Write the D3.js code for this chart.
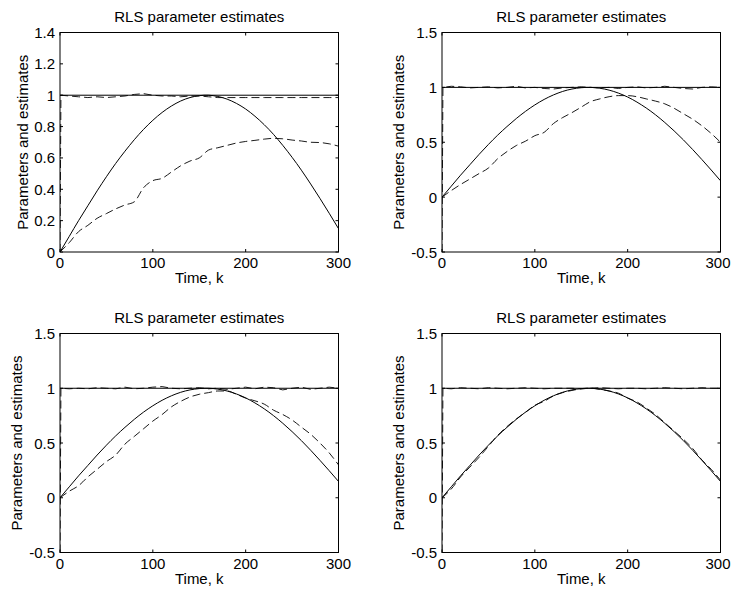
<!DOCTYPE html>
<html><head><meta charset="utf-8">
<script src="https://cdn.jsdelivr.net/npm/d3@7/dist/d3.min.js"></script>
<style>
html,body{margin:0;padding:0;background:#fff;}
text{font-family:"Liberation Sans",Arial,Helvetica,sans-serif;fill:#000;}
</style></head>
<body>
<svg id="chart" width="731" height="596"></svg>
<script>
// ---------- DATA ----------
const kVals = [0,10,20,30,40,50,60,70,80,90,100,110,120,130,140,150,160,170,180,190,200,210,220,230,240,250,260,270,280,290,300];
const kConst = [0,1,10,20,30,40,50,60,70,80,90,100,110,120,130,140,150,160,170,180,190,200,210,220,230,240,250,260,270,280,290,300];
const kTrueConst = [0,300];
const trueConst = [1,1];

// true time-varying parameter (solid curve), same in all panels
const trueVarying = [0,0.10,0.20,0.295,0.39,0.48,0.565,0.643,0.716,0.782,0.84,0.89,0.931,0.963,0.985,0.997,1.0,0.992,0.975,0.948,0.912,0.866,0.812,0.75,0.68,0.604,0.522,0.434,0.342,0.247,0.149];

// estimates of the time-varying parameter (dashed)
const trackA = [0,0.06,0.13,0.17,0.215,0.245,0.275,0.30,0.32,0.41,0.455,0.47,0.51,0.55,0.58,0.60,0.65,0.665,0.68,0.695,0.705,0.712,0.72,0.725,0.722,0.714,0.708,0.70,0.698,0.69,0.675];
const trackB = [0,0.06,0.115,0.165,0.215,0.265,0.35,0.415,0.47,0.51,0.56,0.59,0.67,0.725,0.77,0.82,0.87,0.895,0.915,0.925,0.925,0.915,0.895,0.875,0.85,0.81,0.76,0.71,0.65,0.58,0.50];
const trackC = [0,0.06,0.11,0.19,0.26,0.33,0.39,0.49,0.56,0.63,0.70,0.76,0.83,0.88,0.92,0.945,0.96,0.975,0.975,0.945,0.91,0.885,0.855,0.80,0.76,0.71,0.645,0.58,0.50,0.41,0.30];
const trackD = [0,0.08,0.19,0.28,0.37,0.47,0.57,0.65,0.72,0.78,0.845,0.88,0.93,0.96,0.98,0.995,1.0,0.99,0.975,0.955,0.91,0.875,0.82,0.76,0.685,0.61,0.535,0.45,0.345,0.26,0.16];

// estimates of the constant parameter (dashed)
const constA = [0,1.0,0.995,0.99,0.985,0.99,0.985,0.99,0.995,1.005,1.01,1.0,0.995,0.995,0.99,0.995,0.995,0.99,0.985,0.985,0.985,0.985,0.985,0.985,0.985,0.985,0.985,0.985,0.985,0.985,0.985,0.985];
const constB = [-0.5,1.0,1.01,1.005,0.995,1.0,1.005,0.995,1.0,1.01,0.995,1.0,0.99,0.985,0.995,1.0,1.005,1.0,0.995,1.0,0.99,1.0,1.005,0.995,1.0,1.01,1.0,0.99,0.985,1.0,1.005,1.0];
const constC = [-0.5,1.0,0.995,1.0,0.995,1.005,1.0,0.995,1.01,0.995,1.0,1.01,1.015,1.0,0.995,1.0,1.005,0.995,1.0,0.99,1.0,1.01,0.995,1.01,1.005,0.985,1.0,1.01,0.99,1.0,1.01,1.0];
const constD = [-0.5,1.0,0.995,1.005,1.0,0.995,1.005,1.0,0.995,1.0,1.005,1.0,0.995,1.0,1.0,1.0,0.995,1.0,1.005,1.0,0.995,1.0,1.0,0.995,1.0,1.005,1.0,0.995,1.0,1.005,1.0,1.0];

const xTicks = [0,100,200,300];
const xTickLabels = ["0","100","200","300"];
const yTicksA = [0,0.2,0.4,0.6,0.8,1.0,1.2,1.4];
const yTickLabelsA = ["0","0.2","0.4","0.6","0.8","1","1.2","1.4"];
const yTicksB = [-0.5,0,0.5,1.0,1.5];
const yTickLabelsB = ["-0.5","0","0.5","1","1.5"];

const titleText = "RLS parameter estimates";
const xLabelText = "Time, k";
const yLabelText = "Parameters and estimates";

// ---------- LAYOUT ----------
const W = 731;
const panels = [
  {x0:60,  y0:32.5,  w:278.5, h:219.5, yDom:[0,1.4],   yT:yTicksA, yL:yTickLabelsA, track:trackA, est:constA, ylx:22},
  {x0:442, y0:32.5,  w:278.5, h:219.5, yDom:[-0.5,1.5],yT:yTicksB, yL:yTickLabelsB, track:trackB, est:constB, ylx:398},
  {x0:60,  y0:333.5, w:278.5, h:219,   yDom:[-0.5,1.5],yT:yTicksB, yL:yTickLabelsB, track:trackC, est:constC, ylx:16},
  {x0:442, y0:333.5, w:278.5, h:219,   yDom:[-0.5,1.5],yT:yTicksB, yL:yTickLabelsB, track:trackD, est:constD, ylx:398}
];

const svg = d3.select("#chart");
const fs = 15;
const tickLen = 3;

panels.forEach((p,i)=>{
  const x = d3.scaleLinear().domain([0,300]).range([p.x0, p.x0+p.w]);
  const y = d3.scaleLinear().domain(p.yDom).range([p.y0+p.h, p.y0]);
  const g = svg.append("g");
  const clipId = "clip"+i;
  svg.append("clipPath").attr("id",clipId).append("rect")
     .attr("x",p.x0).attr("y",p.y0).attr("width",p.w).attr("height",p.h);

  const plot = g.append("g").attr("clip-path","url(#"+clipId+")");
  const line = (ks, vs, curve) => d3.line().x((d,j)=>x(ks[j])).y(d=>y(d)).curve(curve||d3.curveLinear)(vs);

  // true parameters (solid)
  plot.append("path").attr("d", line(kTrueConst, trueConst)).attr("fill","none").attr("stroke","#000").attr("stroke-width",1);
  plot.append("path").attr("d", line(kVals, trueVarying, d3.curveNatural)).attr("fill","none").attr("stroke","#000").attr("stroke-width",1);
  // estimates (dashed)
  plot.append("path").attr("d", line(kConst, p.est)).attr("fill","none").attr("stroke","#000").attr("stroke-width",0.9).attr("stroke-dasharray","8,4");
  plot.append("path").attr("d", line(kVals, p.track, d3.curveMonotoneX)).attr("fill","none").attr("stroke","#000").attr("stroke-width",0.9).attr("stroke-dasharray","8,4");

  // box
  g.append("rect").attr("x",p.x0).attr("y",p.y0).attr("width",p.w).attr("height",p.h)
   .attr("fill","none").attr("stroke","#000").attr("stroke-width",1);

  // x ticks (inside, bottom and top)
  xTicks.forEach((t,j)=>{
    const xx = x(t);
    g.append("line").attr("x1",xx).attr("x2",xx).attr("y1",p.y0+p.h).attr("y2",p.y0+p.h-tickLen).attr("stroke","#000");
    g.append("line").attr("x1",xx).attr("x2",xx).attr("y1",p.y0).attr("y2",p.y0+tickLen).attr("stroke","#000");
    const lbl = g.append("text").attr("y",p.y0+p.h+16).attr("font-size",fs).text(xTickLabels[j]);
    if (xx + 13 > W) lbl.attr("x", W - 0.5).attr("text-anchor","end");
    else lbl.attr("x", xx).attr("text-anchor","middle");
  });
  // y ticks
  p.yT.forEach((t,j)=>{
    const yy = y(t);
    g.append("line").attr("x1",p.x0).attr("x2",p.x0+tickLen).attr("y1",yy).attr("y2",yy).attr("stroke","#000");
    g.append("line").attr("x1",p.x0+p.w).attr("x2",p.x0+p.w-tickLen).attr("y1",yy).attr("y2",yy).attr("stroke","#000");
    g.append("text").attr("x",p.x0-5).attr("y",yy+5.5).attr("text-anchor","end")
     .attr("font-size",fs).text(p.yL[j]);
  });

  // title
  g.append("text").attr("x",p.x0+p.w/2).attr("y",p.y0-11).attr("text-anchor","middle")
   .attr("font-size",fs).text(titleText);
  // x label
  g.append("text").attr("x",p.x0+p.w/2).attr("y",p.y0+p.h+31).attr("text-anchor","middle")
   .attr("font-size",fs).text(xLabelText);
  // y label
  g.append("text").attr("transform","translate("+(p.ylx+5.5)+","+(p.y0+p.h/2)+") rotate(-90)")
   .attr("text-anchor","middle").attr("font-size",fs).text(yLabelText);
});
</script>
</body></html>
